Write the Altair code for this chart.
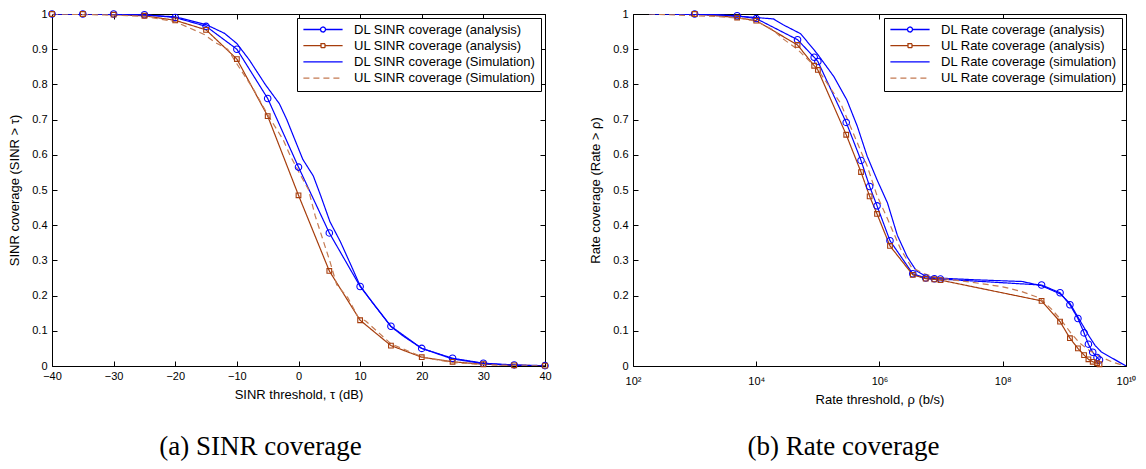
import altair as alt
import pandas as pd

# ---------------- panel (a): SINR coverage ----------------
tau_an = [-40, -35, -30, -25, -20, -15, -10, -5, 0, 5, 10, 15, 20, 25, 30, 35, 40]
dl_sinr_an = [1.0, 1.0, 1.0, 0.998, 0.99, 0.965, 0.90, 0.76, 0.565, 0.378, 0.226,
              0.113, 0.05, 0.022, 0.008, 0.003, 0.001]
ul_sinr_an = [1.0, 1.0, 0.998, 0.995, 0.982, 0.955, 0.872, 0.71, 0.485, 0.27, 0.13,
              0.058, 0.025, 0.012, 0.005, 0.002, 0.001]

tau_dl_sim = [-40, -30, -25, -20, -15, -12, -10, -8, -5.4, -3.1, -1.9, -0.8, 0.7, 2.4,
              3.6, 5.1, 6.8, 8.5, 10, 12, 15, 17, 20, 25, 30, 35, 40]
dl_sinr_sim = [1.0, 0.999, 0.997, 0.992, 0.97, 0.945, 0.916, 0.87, 0.80, 0.745, 0.70,
               0.652, 0.587, 0.54, 0.484, 0.41, 0.353, 0.287, 0.228, 0.18, 0.112, 0.085,
               0.05, 0.02, 0.007, 0.002, 0.0]

tau_ul_sim = [-40, -30, -25, -20, -15.3, -13.5, -11.5, -9.8, -7.2, -4.8, -2.5, -1.3, 0.4,
              1.6, 2.7, 5.1, 6.2, 8.0, 9.7, 10.9, 15, 20.2, 25, 30, 35, 40]
ul_sinr_sim = [1.0, 0.997, 0.993, 0.978, 0.942, 0.919, 0.90, 0.853, 0.783, 0.708, 0.643,
               0.596, 0.54, 0.502, 0.427, 0.297, 0.231, 0.194, 0.138, 0.128, 0.063, 0.025,
               0.01, 0.004, 0.001, 0.0]

# ---------------- panel (b): Rate coverage (x as log10 of b/s) ----------------
rate_an_exp = [3.0, 3.69, 4.0, 4.67, 4.94, 5.0, 5.46, 5.70, 5.84, 5.96, 6.17, 6.54, 6.75,
               6.89, 6.99, 8.63, 8.93, 9.09, 9.22, 9.32, 9.39, 9.46, 9.53, 9.57]
dl_rate_an = [1.0, 0.995, 0.987, 0.927, 0.877, 0.865, 0.692, 0.584, 0.51, 0.455, 0.356,
              0.262, 0.25, 0.248, 0.247, 0.23, 0.208, 0.174, 0.135, 0.094, 0.062, 0.039,
              0.024, 0.017]
ul_rate_an = [1.0, 0.99, 0.981, 0.912, 0.853, 0.841, 0.657, 0.551, 0.482, 0.432, 0.341,
              0.259, 0.248, 0.246, 0.244, 0.185, 0.126, 0.079, 0.05, 0.031, 0.019, 0.012,
              0.008, 0.005]

dl_rate_sim_exp = [2.26, 3.36, 4.0, 4.28, 4.43, 4.72, 4.99, 5.26, 5.47, 5.64, 5.80, 5.96,
                   6.13, 6.29, 6.45, 6.6, 6.76, 6.94, 7.54, 8.32, 8.63, 8.93, 9.09, 9.2,
                   9.3, 9.4, 9.5, 9.6, 9.75, 9.9, 10.0]
dl_rate_sim = [1.0, 0.998, 0.99, 0.986, 0.97, 0.944, 0.887, 0.822, 0.756, 0.681, 0.596,
               0.529, 0.463, 0.371, 0.31, 0.27, 0.254, 0.25, 0.245, 0.24, 0.228, 0.205,
               0.178, 0.145, 0.115, 0.085, 0.058, 0.04, 0.025, 0.01, 0.0]

ul_rate_sim_exp = [2.26, 3.36, 3.72, 4.0, 4.26, 4.43, 4.66, 4.99, 5.37, 5.64, 5.80, 5.96,
                   6.13, 6.34, 6.52, 6.73, 6.94, 7.5, 8.0, 8.3, 8.6, 8.8, 8.95, 9.1, 9.25,
                   9.4, 9.6, 9.8, 9.95]
ul_rate_sim = [1.0, 0.993, 0.988, 0.98, 0.956, 0.93, 0.901, 0.845, 0.746, 0.634, 0.568,
               0.484, 0.418, 0.333, 0.28, 0.262, 0.25, 0.238, 0.225, 0.212, 0.193, 0.16,
               0.13, 0.095, 0.065, 0.045, 0.025, 0.01, 0.002]

names_a = ["DL SINR coverage (analysis)", "UL SINR coverage (analysis)",
           "DL SINR coverage (Simulation)", "UL SINR coverage (Simulation)"]
names_b = ["DL Rate coverage (analysis)", "UL Rate coverage (analysis)",
           "DL Rate coverage (simulation)", "UL Rate coverage (simulation)"]

x_ticks_a = [-40, -30, -20, -10, 0, 10, 20, 30, 40]
x_ticks_b = [1e2, 1e4, 1e6, 1e8, 1e10]
y_ticks = [0, 0.1, 0.2, 0.3, 0.4, 0.5, 0.6, 0.7, 0.8, 0.9, 1.0]

# ---------------- styling ----------------
FONT = "Liberation Sans"
SERIF = "Liberation Serif"
BLUE = "#0000ff"
BROWN = "#a63d0c"
LBROWN = "#c47a52"
COLORS = [BLUE, BROWN, BLUE, LBROWN]
DASHES = [[1, 0], [1, 0], [1, 0], [6, 4]]
W, H = 493, 352
TK = 5  # inward tick length

CIRC = "M-4.9,0H-0.62M0.62,0H4.9M0.62,0A0.62,0.62,0,1,1,-0.62,0A0.62,0.62,0,1,1,0.62,0"
SQR = "M-4.9,0H-0.5M0.5,0H4.9M-0.5,-0.5H0.5V0.5H-0.5Z"
LINE = "M-4.9,0H4.9"
shape_expr = (f"indexof(datum.value,'(analysis)') < 0 ? '{LINE}' : "
              f"(indexof(datum.value,'DL') === 0 ? '{CIRC}' : '{SQR}')")
dash_expr = ("indexof(datum.value,'UL') === 0 && indexof(datum.value,'(analysis)') < 0 "
             "? [6,4] : [1,0]")


def make_legend():
    return alt.Legend(
        title=None, orient="top-right", offset=4, padding=5,
        strokeColor="black", fillColor="white",
        labelFont=FONT, labelFontSize=13, labelColor="black", labelLimit=400,
        symbolSize=64, symbolOffset=14.5, labelOffset=24.5, rowPadding=2.2,
        symbolType=alt.ExprRef(expr=shape_expr),
        symbolDash=alt.ExprRef(expr=dash_expr),
        symbolFillColor="transparent", symbolStrokeWidth=1.3,
    )


axis_common = dict(domainColor="black", domainWidth=1, tickColor="black", tickWidth=1,
                   tickSize=alt.ExprRef(expr=f"-{TK}"), grid=False, labelFont=FONT,
                   labelFontSize=11, labelColor="black", titleFont=FONT, titleFontSize=13,
                   titleFontWeight="normal", titleColor="black", labelFlush=False)


def long_df(parts):
    frames = [pd.DataFrame({"x": xs, "y": ys, "series": nm}) for xs, ys, nm in parts]
    return pd.concat(frames, ignore_index=True)


def panel(df_lines, df_dl, df_ul, names, xscale, xvals, xtitle, ytitle,
          x_label_pad, x_title_pad, label_expr, caption, cap_offset, cap_dx):
    bottom = alt.Axis(values=xvals, title=xtitle, labelPadding=x_label_pad + TK,
                      titlePadding=x_title_pad, labelExpr=label_expr, **axis_common)
    top = alt.Axis(values=xvals, orient="top", labels=False, title=None, **axis_common)
    left = alt.Axis(values=y_ticks, title=ytitle, format=".1~f", labelPadding=5 + TK,
                    titlePadding=10, **axis_common)
    right = alt.Axis(values=y_ticks, orient="right", labels=False, title=None, **axis_common)
    yscale = alt.Scale(domain=[0, 1], nice=False, zero=False)

    lines = alt.Chart(df_lines).mark_line(strokeWidth=1.2, clip=True).encode(
        x=alt.X("x:Q", scale=xscale, axis=bottom),
        y=alt.Y("y:Q", scale=yscale, axis=left),
        color=alt.Color("series:N", scale=alt.Scale(domain=names, range=COLORS),
                        legend=make_legend()),
        strokeDash=alt.StrokeDash("series:N", scale=alt.Scale(domain=names, range=DASHES),
                                  legend=None),
    )
    pts_dl = alt.Chart(df_dl).mark_point(shape="circle", filled=False, size=42,
                                          strokeWidth=1.1, color=BLUE, opacity=1).encode(
        x=alt.X("x:Q", scale=xscale, axis=top),
        y=alt.Y("y:Q", scale=yscale, axis=right),
    )
    pts_ul = alt.Chart(df_ul).mark_point(shape="square", filled=False, size=22,
                                          strokeWidth=1.1, color=BROWN, opacity=1).encode(
        x=alt.X("x:Q", scale=xscale, axis=None),
        y=alt.Y("y:Q", scale=yscale, axis=None),
    )
    return alt.layer(lines, pts_dl, pts_ul).resolve_axis(
        x="independent", y="independent"
    ).properties(
        width=W, height=H,
        title=alt.TitleParams(caption, orient="bottom", anchor="middle", frame="group",
                              font=SERIF, fontSize=27, fontWeight="normal", color="black",
                              offset=cap_offset, dx=cap_dx),
    )


df_a = long_df([(tau_an, dl_sinr_an, names_a[0]), (tau_an, ul_sinr_an, names_a[1]),
                (tau_dl_sim, dl_sinr_sim, names_a[2]), (tau_ul_sim, ul_sinr_sim, names_a[3])])
df_a_dl = pd.DataFrame({"x": tau_an, "y": dl_sinr_an})
df_a_ul = pd.DataFrame({"x": tau_an, "y": ul_sinr_an})

rate_an = [10 ** e for e in rate_an_exp]
rate_dl_sim = [10 ** e for e in dl_rate_sim_exp]
rate_ul_sim = [10 ** e for e in ul_rate_sim_exp]
df_b = long_df([(rate_an, dl_rate_an, names_b[0]), (rate_an, ul_rate_an, names_b[1]),
                (rate_dl_sim, dl_rate_sim, names_b[2]), (rate_ul_sim, ul_rate_sim, names_b[3])])
df_b_dl = pd.DataFrame({"x": rate_an, "y": dl_rate_an})
df_b_ul = pd.DataFrame({"x": rate_an, "y": ul_rate_an})

panel_a = panel(df_a, df_a_dl, df_a_ul, names_a,
                alt.Scale(domain=[-40, 40], nice=False, zero=False), x_ticks_a,
                "SINR threshold, \u03c4 (dB)", "SINR coverage (SINR > \u03c4)",
                4, 7.5, "format(datum.value, 'd')", "(a) SINR coverage", 32, -38)

sup = "['\u2070','\u00b9','\u00b2','\u00b3','\u2074','\u2075','\u2076','\u2077','\u2078','\u2079','\u00b9\u2070']"
label_b = f"'10' + {sup}[round(log(datum.value)/LN10)]"
panel_b = panel(df_b, df_b_dl, df_b_ul, names_b,
                alt.Scale(type="log", domain=[1e2, 1e10], nice=False), x_ticks_b,
                "Rate threshold, \u03c1 (b/s)", "Rate coverage (Rate > \u03c1)",
                9, 7, label_b, "(b) Rate coverage", 28, -36)

chart = alt.hconcat(panel_a, panel_b, spacing=88, bounds="flush").resolve_scale(
    color="independent", strokeDash="independent", x="independent", y="independent"
).properties(
    autosize=alt.AutoSizeParams(type="none"),
    padding={"left": 44, "top": 6, "right": 1086, "bottom": 447},
).configure_view(stroke="black", strokeWidth=1).configure(background="white")

chart.save("out.html", embed_options={"renderer": "svg", "actions": False})
